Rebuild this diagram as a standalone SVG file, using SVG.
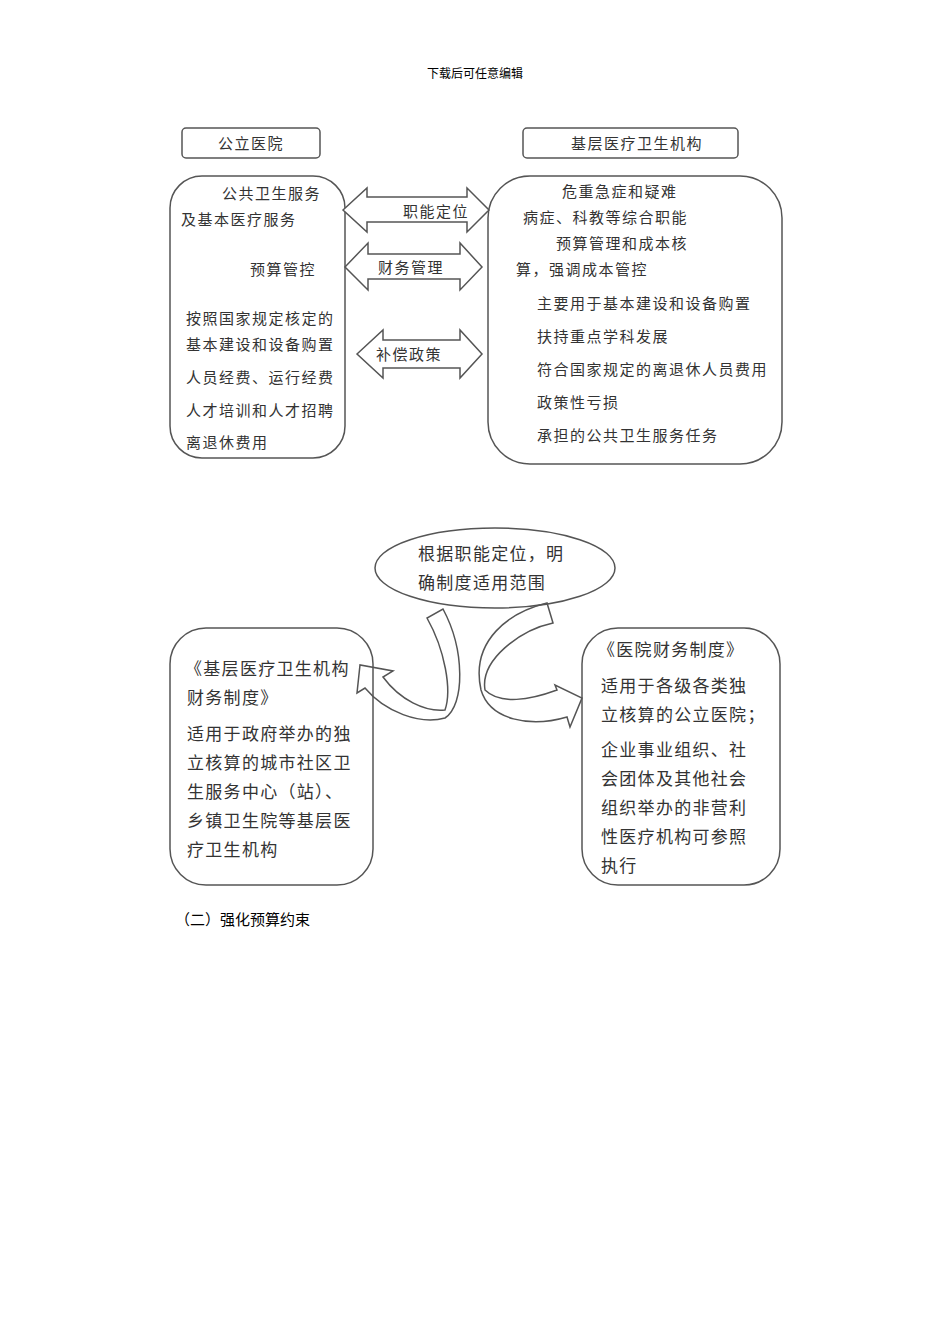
<svg xmlns="http://www.w3.org/2000/svg" width="950" height="1344" viewBox="0 0 950 1344">
<style>
.b{fill:#fff;stroke:#555;stroke-width:1.5}
.t{font-family:"Noto Sans CJK SC","Noto Sans",sans-serif;font-size:15px;fill:#333;letter-spacing:1.5px}
.u{font-family:"Noto Sans CJK SC","Noto Sans",sans-serif;font-size:17px;fill:#333;letter-spacing:1.3px}
.s{font-family:"Liberation Serif","Noto Sans CJK SC",serif;fill:#000}
</style>
<rect width="950" height="1344" fill="#fff"/>
<text class="s" x="475" y="78" font-size="12" text-anchor="middle">下载后可任意编辑</text>
<g id="n1"><rect class="b" x="182" y="128" width="138" height="30" rx="4"/><text class="t" x="251" y="149" text-anchor="middle">公立医院</text></g>
<g id="n2"><rect class="b" x="523" y="128" width="215" height="30" rx="4"/><text class="t" x="637" y="149" text-anchor="middle">基层医疗卫生机构</text></g>
<g id="n3"><rect class="b" x="170" y="176" width="175" height="282" rx="32"/>
<text class="t" x="222" y="199">公共卫生服务</text><text class="t" x="181" y="225">及基本医疗服务</text><text class="t" x="250" y="275">预算管控</text>
<text class="t" x="186" y="324">按照国家规定核定的</text><text class="t" x="186" y="350">基本建设和设备购置</text><text class="t" x="186" y="383">人员经费、运行经费</text><text class="t" x="186" y="416">人才培训和人才招聘</text><text class="t" x="186" y="448">离退休费用</text></g>
<g id="n4"><rect class="b" x="488" y="176" width="294" height="288" rx="42"/>
<text class="t" x="562" y="197">危重急症和疑难</text><text class="t" x="523" y="223">病症、科教等综合职能</text><text class="t" x="556" y="249">预算管理和成本核</text><text class="t" x="516" y="275">算，强调成本管控</text>
<text class="t" x="537" y="309">主要用于基本建设和设备购置</text><text class="t" x="537" y="342">扶持重点学科发展</text><text class="t" x="537" y="375">符合国家规定的离退休人员费用</text><text class="t" x="537" y="408">政策性亏损</text><text class="t" x="537" y="441">承担的公共卫生服务任务</text></g>
<g id="n5"><ellipse class="b" cx="495" cy="568" rx="120" ry="40"/><text class="u" x="418" y="560">根据职能定位，明</text><text class="u" x="418" y="589">确制度适用范围</text></g>
<g id="n6"><rect class="b" x="170" y="628" width="203" height="257" rx="36"/>
<text class="u" x="185" y="675">《基层医疗卫生机构</text><text class="u" x="187" y="704">财务制度》</text><text class="u" x="187" y="740">适用于政府举办的独</text><text class="u" x="187" y="769">立核算的城市社区卫</text><text class="u" x="187" y="798">生服务中心（站）、</text><text class="u" x="187" y="827">乡镇卫生院等基层医</text><text class="u" x="187" y="856">疗卫生机构</text></g>
<g id="n7"><rect class="b" x="582" y="628" width="198" height="257" rx="36"/>
<text class="u" x="598" y="656">《医院财务制度》</text><text class="u" x="601" y="692">适用于各级各类独</text><text class="u" x="601" y="721">立核算的公立医院；</text><text class="u" x="601" y="756">企业事业组织、社</text><text class="u" x="601" y="785">会团体及其他社会</text><text class="u" x="601" y="814">组织举办的非营利</text><text class="u" x="601" y="843">性医疗机构可参照</text><text class="u" x="601" y="872">执行</text></g>
<g id="connectors">
<path class="b" d="M343,210 L367,188 L367,197 L467,197 L467,188 L489,210 L467,232 L467,222 L367,222 L367,232 Z"/>
<path class="b" d="M345,267 L368,243 L368,254 L460,254 L460,243 L482,267 L460,290 L460,279 L368,279 L368,290 Z"/>
<path class="b" d="M357,354 L383,330 L383,340 L460,340 L460,330 L482,354 L460,378 L460,368 L383,368 L383,378 Z"/>
<text class="t" x="403" y="217">职能定位</text>
<text class="t" x="378" y="273">财务管理</text>
<text class="t" x="376" y="360">补偿政策</text>
<path fill="none" stroke="#555" stroke-width="1.5" d="M427,618 C445,650 452,690 445,710 C425,712 400,700 383,677 L393,671 L360,665 L357,693 L365,688 C385,712 420,725 445,718 C465,705 465,650 443,609 Z"/>
<path fill="none" stroke="#555" stroke-width="1.5" d="M553,623 C520,630 480,660 485,690 C500,705 530,700 557,690 L555,685 L582,698 L570,727 L567,717 C530,728 490,720 481,690 C470,640 510,612 547,603 Z"/>
</g>
<text class="s" x="175" y="925" font-size="15">（二）强化预算约束</text>
</svg>
